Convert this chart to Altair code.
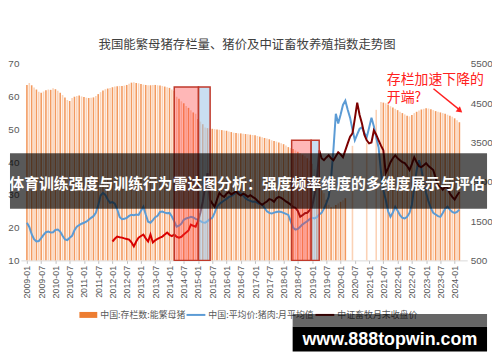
import altair as alt
import pandas as pd

START_YEAR = 2009

# 中国:存栏数:能繁母猪 (left axis), monthly 2009-01 .. 2024-03
sow_stock = [
    63.6, 64.2, 63.5, 62.8, 62.2, 61.5, 61.2, 61.6, 62.0, 62.2, 62.1, 62.6,
    62.3, 61.8, 61.2, 60.5, 59.8, 59.0, 58.7, 59.6, 60.0, 60.2, 60.4, 60.1,
    59.9, 59.7, 59.6, 59.7, 59.8, 60.2, 60.8, 61.4, 61.9, 62.3, 62.5, 62.7,
    62.9, 63.1, 63.2, 63.3, 63.3, 63.4, 63.6, 64.0, 64.3, 64.4, 64.2, 64.1,
    63.9, 63.7, 63.6, 63.5, 63.5, 63.6, 63.6, 63.5, 63.4, 63.3, 63.1, 62.9,
    62.7, 62.2, 61.8, 60.0, 59.4, 58.6, 58.0, 57.2, 56.6, 55.9, 55.2, 54.8,
    53.2, 52.4, 51.6, 50.6, 50.4, 50.3, 50.2, 50.1, 50.0, 49.9, 49.8, 49.7,
    49.6, 49.4, 49.2, 49.0, 48.9, 48.8, 48.8, 48.7, 48.6, 48.5, 48.4, 48.3,
    48.2, 48.0, 47.8, 47.6, 47.4, 47.2, 47.0, 46.7, 46.5, 46.3, 46.0, 45.8,
    45.5, 45.1, 44.6, 44.3, 44.0, 43.6, 43.2, 42.8, 42.3, 41.8, 41.2, 40.5,
    39.5, 37.8, 35.0, 33.5, 32.0, 30.5, 28.5, 27.0, 26.2, 26.4, 26.9, 27.4,
    27.9, 28.4, 29.0, None, None, 45.0, None, None, None, None, None, 46.0,
    None, None, None, 56.0, None, 58.4, 58.2, 58.0, 57.6, 57.1, 56.7, 56.3,
    55.9, 55.4, 55.0, 54.6, 54.2, 54.0, 54.4, 55.0, 55.4, 55.8, 56.1, 56.3,
    56.5, 56.4, 56.2, 55.9, 55.6, 55.4, 55.2, 55.0, 54.8, 54.5, 54.2, 53.9,
    53.4, 52.8, 52.2,
]

# 中国:平均价:猪肉:月平均值 (left axis)
pork_price = [
    21.5, 20.2, 18.0, 16.5, 15.8, 15.9, 16.8, 17.8, 18.6, 18.8, 18.5, 18.6,
    19.3, 19.4, 18.8, 17.5, 16.4, 16.2, 16.9, 17.5, 19.2, 20.3, 20.8, 21.2,
    21.5, 21.8, 22.4, 23.0, 23.5, 24.5, 26.8, 29.8, 30.6, 30.0, 28.6, 27.6,
    27.8, 27.3, 25.6, 23.3, 22.6, 22.7, 23.0, 23.6, 23.9, 23.8, 24.0, 23.9,
    25.2, 26.4, 24.0, 21.8, 21.5, 22.3, 23.2, 23.6, 24.8, 24.9, 24.6, 24.4,
    24.5, 23.4, 21.9, 20.3, 20.6, 21.2, 22.4, 22.8, 23.0, 23.3, 23.1, 22.7,
    22.4, 22.0, 21.6, 21.5, 22.0, 22.6, 23.0, 24.5, 26.4, 27.2, 27.8, 28.3,
    28.8, 29.4, 29.6, 30.2, 30.6, 30.9, 30.4, 29.8, 29.0, 28.5, 28.2, 27.9,
    28.0, 27.6, 27.2, 27.0, 26.0, 25.0, 24.5, 24.3, 24.6, 24.8, 24.9, 24.8,
    24.5, 24.2, 23.9, 22.0, 20.0, 19.4, 19.6, 20.3, 21.0, 21.5, 22.0, 22.6,
    23.0, 22.8, 23.2, 24.0, 24.5, 25.8, 27.5, 29.4, 35.0, 44.0, 54.8, 51.8,
    54.5, 57.5, 58.8, 56.0, 53.6, 50.0, 46.7, 48.5, 50.2, 50.6, 49.0, 47.6,
    50.5, 53.6, 51.0, 47.5, 44.5, 37.0, 31.5, 28.5, 25.0, 23.3, 24.6, 26.4,
    25.2, 23.8, 23.0, 22.8, 23.3, 24.5, 27.0, 32.4, 37.5, 40.6, 38.0, 33.5,
    30.6, 28.0, 26.0, 24.5, 24.0, 23.5, 23.3, 24.5, 25.8, 26.4, 25.5, 24.8,
    24.5, 24.8, 25.5,
]

# 中证畜牧月末收盘价 (right axis), monthly 2012-01 .. 2024-03
INDEX_START = 36
index_close = [
    980, 1050, 1106, 1090, 1080, 1060, 1045, 1030, 960, 854, 980, 1080,
    1120, 1157, 1060, 980, 1157, 954, 1010, 1050, 1080, 1106, 1160, 1207,
    1150, 1120, 1157, 1100, 1080, 1100, 1160, 1207, 1260, 1409, 1380, 1359,
    1500, 1712, 2000, 2369, 2722, 2040, 1950, 1864, 2050, 2217, 2150, 2116,
    2200, 2242, 2180, 2217, 2260, 2190, 2150, 2200, 2167, 2120, 2160, 2116,
    2080, 2020, 1960, 1914, 1960, 2000, 2060, 2040, 1990, 2080, 2116, 2090,
    2050, 2000, 1965, 1920, 1860, 1838, 1760, 1611, 1650, 1700, 1712, 1780,
    1864, 2150, 2545, 3300, 3100, 3050, 3120, 3177, 3100, 3050, 3150, 3253,
    3200, 3126, 3300, 3480, 3650, 3732, 4111, 4515, 4200, 3985, 3700, 3556,
    3480, 3500, 3808, 3700, 3556, 3420, 3303, 2722, 2850, 3000, 3100, 3177,
    3100, 3050, 3000, 2975, 2900, 2798, 2950, 3126, 3000, 2900, 2874, 2920,
    2975, 2900, 2850, 2798, 2600, 2400, 2369, 2300, 2369, 2350, 2200, 2116,
    2050, 2150, 2242,
]
INDEX_SPLIT = 72  # colour change of the index line

# highlighted periods (month index from 2009-01)
hl_start = [62.0, 111.4]
hl_mid = [72.2, 119.6]
hl_end = [77.1, 123.0]
hl_top = [63.0, 46.7]

left_ticks = [10, 20, 30, 40, 50, 60, 70]
right_ticks = [500, 1500, 2500, 3500, 4500, 5500]
x_ticks = list(range(0, 181, 6))

title_text = "我国能繁母猪存栏量、猪价及中证畜牧养殖指数走势图"
banner_text = "体育训练强度与训练行为雷达图分析：强度频率维度的多维度展示与评估"
note_lines = ["存栏加速下降的", "开端?"]
legend_labels = ["中国:存栏数:能繁母猪", "中国:平均价:猪肉:月平均值", "中证畜牧月末收盘价"]
watermark = "www.888topwin.com"

CJK = "Noto Sans CJK SC"
months = list(range(len(sow_stock)))

bars_df = pd.DataFrame({
    "m": months,
    "sow": sow_stock,
    "shade": ["dark" if m % 2 == 0 else "light" for m in months],
})
price_df = pd.DataFrame({"m": months, "price": pork_price})
idx_m = list(range(INDEX_START, INDEX_START + len(index_close)))
idx_df = pd.DataFrame({"m": idx_m, "close": index_close})
idx_a = idx_df[idx_df.m <= INDEX_SPLIT]
idx_b = idx_df[idx_df.m >= INDEX_SPLIT]
hl_red = pd.DataFrame({"a": hl_start, "b": hl_mid, "top": hl_top})
hl_blue = pd.DataFrame({"a": hl_mid, "b": hl_end, "top": hl_top})
one = pd.DataFrame({"k": [0]})

xscale = alt.Scale(domain=[-0.45, 183.2], nice=False, zero=False)
lscale = alt.Scale(domain=[10, 70], nice=False, zero=False)
rscale = alt.Scale(domain=[500, 5500], nice=False, zero=False)

x_axis = alt.Axis(
    values=x_ticks,
    labelExpr="(floor(datum.value/12)+2009) + '-' + (datum.value % 12 == 0 ? '01' : '07')",
    labelAngle=270, labelFontSize=9, labelColor="#595959", labelFont="Liberation Sans",
    domainColor="#d9d9d9", tickColor="#bfbfbf", tickSize=3, labelPadding=2,
    labelOverlap=False, title=None, grid=False,
)


def X(field):
    return alt.X(field, scale=xscale, axis=x_axis)


bars = alt.Chart(bars_df).mark_bar(size=1.6).encode(
    x=X("m:Q"),
    y=alt.Y("sow:Q", scale=lscale, axis=alt.Axis(
        values=left_ticks, orient="left", domain=False, ticks=False, labelPadding=2,
        labelFontSize=10, labelColor="#595959", labelFont="Liberation Sans", title=None, grid=False)),
    y2=alt.datum(10),
    color=alt.Color("shade:N", scale=alt.Scale(domain=["dark", "light"], range=["#f39a5f", "#fbd2b6"]), legend=None),
)

price_line = alt.Chart(price_df).mark_line(color="#5b9bd5", strokeWidth=2).encode(
    x=X("m:Q"),
    y=alt.Y("price:Q", scale=lscale, axis=None),
)

idx_line_a = alt.Chart(idx_a).mark_line(color="#d80000", strokeWidth=2).encode(
    x=X("m:Q"),
    y=alt.Y("close:Q", scale=rscale, axis=None),
)
idx_line_b = alt.Chart(idx_b).mark_line(color="#7d0000", strokeWidth=2).encode(
    x=X("m:Q"),
    y=alt.Y("close:Q", scale=rscale, axis=alt.Axis(
        values=right_ticks, orient="right", domain=False, ticks=False, labelPadding=3, format="d",
        labelFontSize=10, labelColor="#595959", labelFont="Liberation Sans", title=None, grid=False)),
)

rect_red = alt.Chart(hl_red).mark_rect(fill="#ff3030", fillOpacity=0.35, stroke="#c0392b", strokeWidth=1.5).encode(
    x=X("a:Q"), x2="b:Q",
    y=alt.Y("top:Q", scale=lscale, axis=None), y2=alt.datum(10),
)
rect_blue = alt.Chart(hl_blue).mark_rect(fill="#9dc3e6", fillOpacity=0.55, stroke="#c0392b", strokeWidth=1.5).encode(
    x=X("a:Q"), x2="b:Q",
    y=alt.Y("top:Q", scale=lscale, axis=None), y2=alt.datum(10),
)

title = alt.Chart(one).mark_text(text=title_text, font=CJK, fontSize=12.5, color="#404040",
                                 align="center", baseline="middle").encode(
    x=alt.value(228), y=alt.value(-19))

note1 = alt.Chart(one).mark_text(text=note_lines[0], font=CJK, fontSize=14, color="#ff2020",
                                 align="left", baseline="middle").encode(x=alt.value(369), y=alt.value(16))
note2 = alt.Chart(one).mark_text(text=note_lines[1], font=CJK, fontSize=14, color="#ff2020",
                                 align="left", baseline="middle").encode(x=alt.value(369), y=alt.value(34))
arrow = alt.Chart(one).mark_rule(color="#ff2020", strokeWidth=1.5).encode(
    x=alt.value(416), y=alt.value(25), x2=alt.value(442), y2=alt.value(46))
arrow_head = alt.Chart(one).mark_point(shape="triangle", filled=True, color="#ff2020", size=45,
                                       angle=130, opacity=1).encode(x=alt.value(442), y=alt.value(46.5))

banner = alt.Chart(one).mark_rect(color="black", opacity=0.65).encode(
    x=alt.value(-11), x2=alt.value(470), y=alt.value(90), y2=alt.value(146))
banner_t = alt.Chart(one).mark_text(text=banner_text, font=CJK, fontSize=15, fontWeight="bold",
                                    color="white", align="center", baseline="middle").encode(
    x=alt.value(228), y=alt.value(121))

leg_sw = alt.Chart(one).mark_rect(color="#ed7d31").encode(
    x=alt.value(59), x2=alt.value(77), y=alt.value(250), y2=alt.value(256))
leg_l1 = alt.Chart(one).mark_rule(color="#5b9bd5", strokeWidth=2).encode(
    x=alt.value(167), x2=alt.value(186), y=alt.value(253))
leg_l2 = alt.Chart(one).mark_rule(color="#7d0000", strokeWidth=2).encode(
    x=alt.value(297), x2=alt.value(316), y=alt.value(253))
leg_texts = []
for lbl, xp in zip(legend_labels, [80, 189, 319]):
    leg_texts.append(alt.Chart(one).mark_text(text=lbl, font=CJK, fontSize=9, color="#595959",
                                              align="left", baseline="middle").encode(
        x=alt.value(xp), y=alt.value(253)))

wm_band = alt.Chart(one).mark_rect(color="black", opacity=0.6).encode(
    x=alt.value(274), x2=alt.value(470), y=alt.value(252), y2=alt.value(265))
wm_box = alt.Chart(one).mark_rect(color="black").encode(
    x=alt.value(274), x2=alt.value(470), y=alt.value(265), y2=alt.value(290))
wm_text = alt.Chart(one).mark_text(text=watermark, font="Liberation Sans", fontSize=18, fontWeight="bold",
                                   color="white", align="center", baseline="middle").encode(
    x=alt.value(372), y=alt.value(278))

chart = alt.layer(
    bars, price_line, idx_line_a, idx_line_b, rect_red, rect_blue,
    title, note1, note2, arrow, arrow_head,
    leg_sw, leg_l1, leg_l2, *leg_texts,
    banner, banner_t, wm_band, wm_box, wm_text,
).resolve_scale(y="independent").properties(
    width=450, height=198,
    autosize=alt.AutoSizeParams(type="none"),
    padding={"left": 13, "top": 55, "right": 25, "bottom": 100},
    background="white",
).configure_view(stroke=None)

chart.save("out.html", embed_options={"renderer": "svg", "actions": False})
